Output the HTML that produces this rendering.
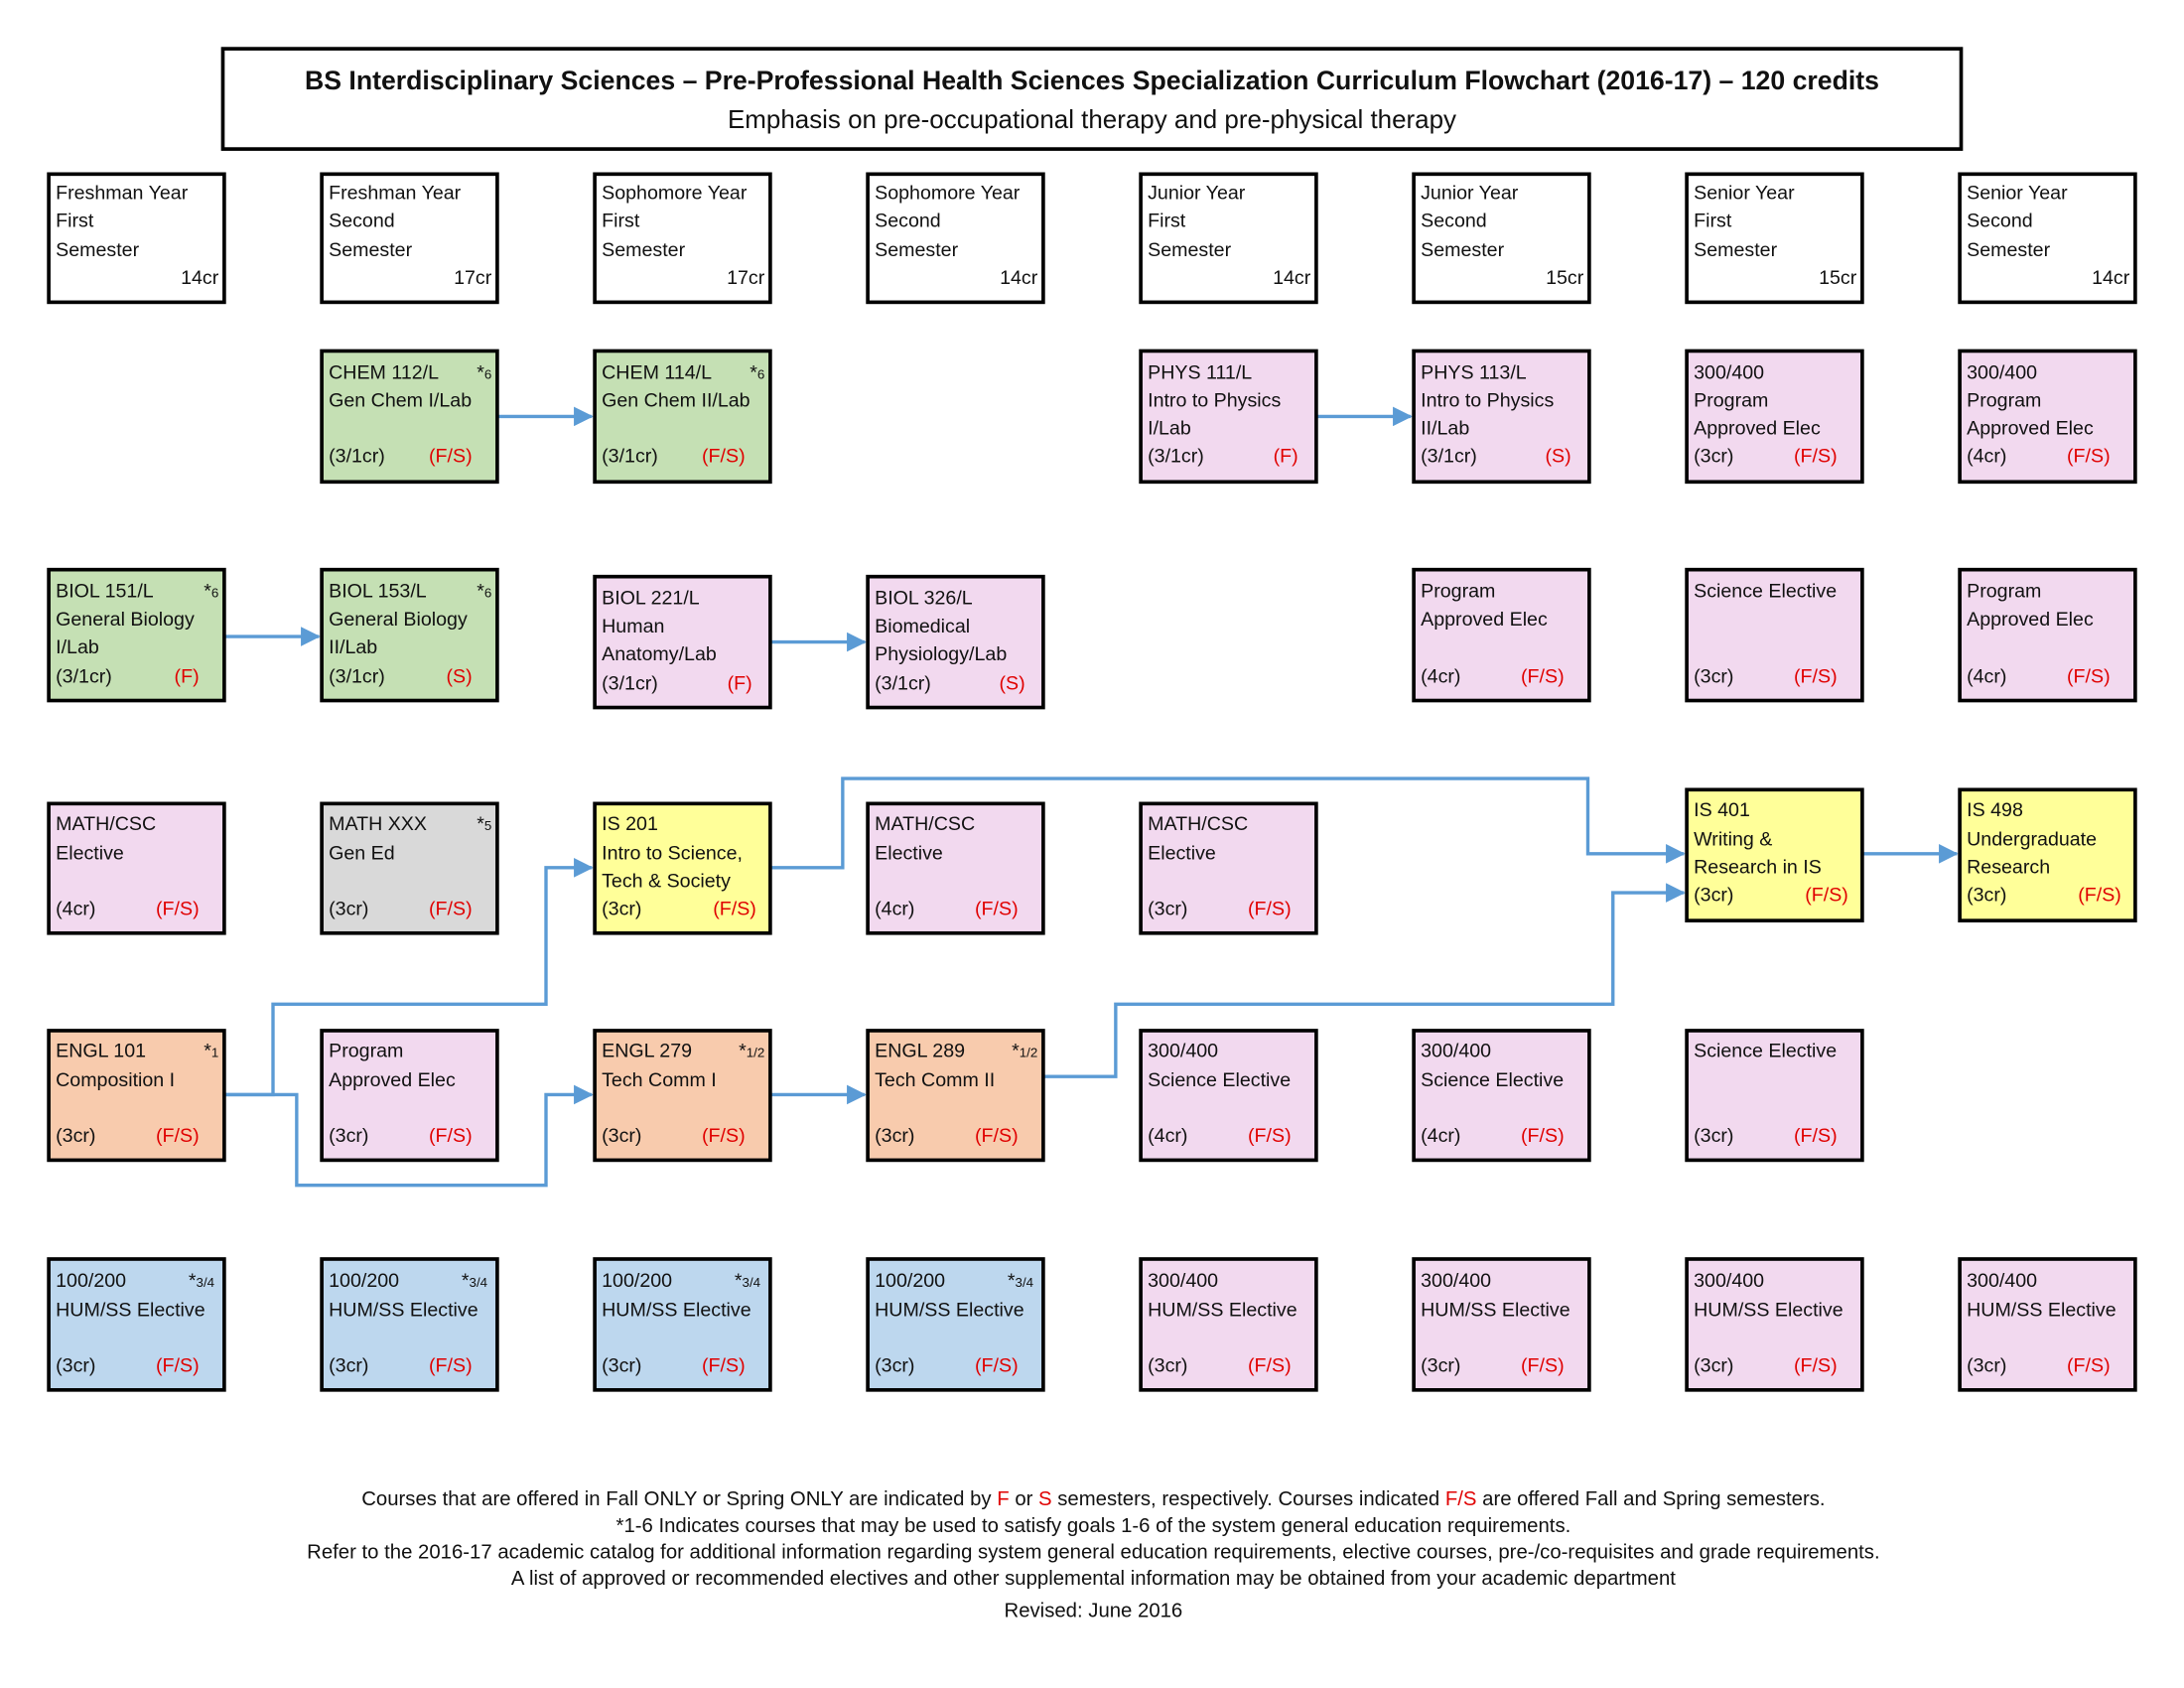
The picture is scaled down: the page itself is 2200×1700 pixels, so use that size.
<!DOCTYPE html>
<html><head><meta charset="utf-8"><style>
html,body{margin:0;padding:0;background:#fff;}
svg{display:block;}
text{font-family:"Liberation Sans Narrow","Liberation Sans",Arial,sans-serif;font-size:14px;fill:#111;}
.r{fill:#e00000;}
.ft{font-family:"Liberation Sans",Arial,sans-serif;font-size:14.5px;}
.sm{font-size:9.5px;}
rect.b{stroke:#000;stroke-width:2.6;}
.c{fill:none;stroke:#5b9bd5;stroke-width:2.4;}
</style></head><body>
<svg width="2200" height="1700" viewBox="0 0 1568 1212" preserveAspectRatio="none" xmlns="http://www.w3.org/2000/svg">
<defs>
<marker id="m" markerWidth="14" markerHeight="14" refX="13" refY="7" orient="auto" markerUnits="userSpaceOnUse" viewBox="0 0 14 14"><path d="M0,0 L14,7 L0,14 z" fill="#5b9bd5"/></marker></defs>

<!-- Title -->
<rect class="b" x="160" y="35" width="1248" height="72" fill="#fff"/>
<text x="784" y="64" text-anchor="middle" style="font-family:'Liberation Sans',sans-serif;font-weight:bold;font-size:19px">BS Interdisciplinary Sciences – Pre-Professional Health Sciences Specialization Curriculum Flowchart (2016-17) – 120 credits</text>
<text x="784" y="92" text-anchor="middle" style="font-family:'Liberation Sans',sans-serif;font-size:18.5px">Emphasis on pre-occupational therapy and pre-physical therapy</text>

<!-- Header boxes -->
<g fill="#fff">
<rect class="b" x="35" y="125" width="126" height="92"/><rect class="b" x="231" y="125" width="126" height="92"/><rect class="b" x="427" y="125" width="126" height="92"/><rect class="b" x="623" y="125" width="126" height="92"/>
<rect class="b" x="819" y="125" width="126" height="92"/><rect class="b" x="1015" y="125" width="126" height="92"/><rect class="b" x="1211" y="125" width="126" height="92"/><rect class="b" x="1407" y="125" width="126" height="92"/>
</g>
<text x="40" y="143">Freshman Year</text><text x="40" y="163">First</text><text x="40" y="184">Semester</text><text x="157" y="204" text-anchor="end">14cr</text>
<text x="236" y="143">Freshman Year</text><text x="236" y="163">Second</text><text x="236" y="184">Semester</text><text x="353" y="204" text-anchor="end">17cr</text>
<text x="432" y="143">Sophomore Year</text><text x="432" y="163">First</text><text x="432" y="184">Semester</text><text x="549" y="204" text-anchor="end">17cr</text>
<text x="628" y="143">Sophomore Year</text><text x="628" y="163">Second</text><text x="628" y="184">Semester</text><text x="745" y="204" text-anchor="end">14cr</text>
<text x="824" y="143">Junior Year</text><text x="824" y="163">First</text><text x="824" y="184">Semester</text><text x="941" y="204" text-anchor="end">14cr</text>
<text x="1020" y="143">Junior Year</text><text x="1020" y="163">Second</text><text x="1020" y="184">Semester</text><text x="1137" y="204" text-anchor="end">15cr</text>
<text x="1216" y="143">Senior Year</text><text x="1216" y="163">First</text><text x="1216" y="184">Semester</text><text x="1333" y="204" text-anchor="end">15cr</text>
<text x="1412" y="143">Senior Year</text><text x="1412" y="163">Second</text><text x="1412" y="184">Semester</text><text x="1529" y="204" text-anchor="end">14cr</text>

<!-- Connectors -->
<polyline class="c" points="357,299 425,299" marker-end="url(#m)"/>
<polyline class="c" points="945,299 1013,299" marker-end="url(#m)"/>
<polyline class="c" points="161,457 229,457" marker-end="url(#m)"/>
<polyline class="c" points="553,461 621,461" marker-end="url(#m)"/>
<polyline class="c" points="553,623 605,623 605,559 1140,559 1140,613 1209,613" marker-end="url(#m)"/>
<polyline class="c" points="161,786 196,786 196,721 392,721 392,623 425,623" marker-end="url(#m)"/>
<polyline class="c" points="161,786 213,786 213,851 392,851 392,786 425,786" marker-end="url(#m)"/>
<polyline class="c" points="553,786 621,786" marker-end="url(#m)"/>
<polyline class="c" points="749,773 801,773 801,721 1158,721 1158,641 1209,641" marker-end="url(#m)"/>
<polyline class="c" points="1337,613 1405,613" marker-end="url(#m)"/>

<!-- Row 1 -->
<rect class="b" x="231" y="252" width="126" height="94" fill="#c5e0b4"/>
<text x="236" y="272">CHEM 112/L</text><text x="353" y="272" text-anchor="end">*<tspan class="sm">6</tspan></text><text x="236" y="292">Gen Chem I/Lab</text><text x="236" y="332">(3/1cr)</text><text class="r" x="339" y="332" text-anchor="end">(F/S)</text>
<rect class="b" x="427" y="252" width="126" height="94" fill="#c5e0b4"/>
<text x="432" y="272">CHEM 114/L</text><text x="549" y="272" text-anchor="end">*<tspan class="sm">6</tspan></text><text x="432" y="292">Gen Chem II/Lab</text><text x="432" y="332">(3/1cr)</text><text class="r" x="535" y="332" text-anchor="end">(F/S)</text>
<rect class="b" x="819" y="252" width="126" height="94" fill="#f2d9ef"/>
<text x="824" y="272">PHYS 111/L</text><text x="824" y="292">Intro to Physics</text><text x="824" y="312">I/Lab</text><text x="824" y="332">(3/1cr)</text><text class="r" x="932" y="332" text-anchor="end">(F)</text>
<rect class="b" x="1015" y="252" width="126" height="94" fill="#f2d9ef"/>
<text x="1020" y="272">PHYS 113/L</text><text x="1020" y="292">Intro to Physics</text><text x="1020" y="312">II/Lab</text><text x="1020" y="332">(3/1cr)</text><text class="r" x="1128" y="332" text-anchor="end">(S)</text>
<rect class="b" x="1211" y="252" width="126" height="94" fill="#f2d9ef"/>
<text x="1216" y="272">300/400</text><text x="1216" y="292">Program</text><text x="1216" y="312">Approved Elec</text><text x="1216" y="332">(3cr)</text><text class="r" x="1319" y="332" text-anchor="end">(F/S)</text>
<rect class="b" x="1407" y="252" width="126" height="94" fill="#f2d9ef"/>
<text x="1412" y="272">300/400</text><text x="1412" y="292">Program</text><text x="1412" y="312">Approved Elec</text><text x="1412" y="332">(4cr)</text><text class="r" x="1515" y="332" text-anchor="end">(F/S)</text>

<!-- Row 2 -->
<rect class="b" x="35" y="409" width="126" height="94" fill="#c5e0b4"/>
<text x="40" y="429">BIOL 151/L</text><text x="157" y="429" text-anchor="end">*<tspan class="sm">6</tspan></text><text x="40" y="449">General Biology</text><text x="40" y="469">I/Lab</text><text x="40" y="490">(3/1cr)</text><text class="r" x="143" y="490" text-anchor="end">(F)</text>
<rect class="b" x="231" y="409" width="126" height="94" fill="#c5e0b4"/>
<text x="236" y="429">BIOL 153/L</text><text x="353" y="429" text-anchor="end">*<tspan class="sm">6</tspan></text><text x="236" y="449">General Biology</text><text x="236" y="469">II/Lab</text><text x="236" y="490">(3/1cr)</text><text class="r" x="339" y="490" text-anchor="end">(S)</text>
<rect class="b" x="427" y="414" width="126" height="94" fill="#f2d9ef"/>
<text x="432" y="434">BIOL 221/L</text><text x="432" y="454">Human</text><text x="432" y="474">Anatomy/Lab</text><text x="432" y="495">(3/1cr)</text><text class="r" x="540" y="495" text-anchor="end">(F)</text>
<rect class="b" x="623" y="414" width="126" height="94" fill="#f2d9ef"/>
<text x="628" y="434">BIOL 326/L</text><text x="628" y="454">Biomedical</text><text x="628" y="474">Physiology/Lab</text><text x="628" y="495">(3/1cr)</text><text class="r" x="736" y="495" text-anchor="end">(S)</text>
<rect class="b" x="1015" y="409" width="126" height="94" fill="#f2d9ef"/>
<text x="1020" y="429">Program</text><text x="1020" y="449">Approved Elec</text><text x="1020" y="490">(4cr)</text><text class="r" x="1123" y="490" text-anchor="end">(F/S)</text>
<rect class="b" x="1211" y="409" width="126" height="94" fill="#f2d9ef"/>
<text x="1216" y="429">Science Elective</text><text x="1216" y="490">(3cr)</text><text class="r" x="1319" y="490" text-anchor="end">(F/S)</text>
<rect class="b" x="1407" y="409" width="126" height="94" fill="#f2d9ef"/>
<text x="1412" y="429">Program</text><text x="1412" y="449">Approved Elec</text><text x="1412" y="490">(4cr)</text><text class="r" x="1515" y="490" text-anchor="end">(F/S)</text>

<!-- Row 3 -->
<rect class="b" x="35" y="577" width="126" height="93" fill="#f2d9ef"/>
<text x="40" y="596">MATH/CSC</text><text x="40" y="617">Elective</text><text x="40" y="657">(4cr)</text><text class="r" x="143" y="657" text-anchor="end">(F/S)</text>
<rect class="b" x="231" y="577" width="126" height="93" fill="#d9d9d9"/>
<text x="236" y="596">MATH XXX</text><text x="353" y="596" text-anchor="end">*<tspan class="sm">5</tspan></text><text x="236" y="617">Gen Ed</text><text x="236" y="657">(3cr)</text><text class="r" x="339" y="657" text-anchor="end">(F/S)</text>
<rect class="b" x="427" y="577" width="126" height="93" fill="#ffff99"/>
<text x="432" y="596">IS 201</text><text x="432" y="617">Intro to Science,</text><text x="432" y="637">Tech &amp; Society</text><text x="432" y="657">(3cr)</text><text class="r" x="543" y="657" text-anchor="end">(F/S)</text>
<rect class="b" x="623" y="577" width="126" height="93" fill="#f2d9ef"/>
<text x="628" y="596">MATH/CSC</text><text x="628" y="617">Elective</text><text x="628" y="657">(4cr)</text><text class="r" x="731" y="657" text-anchor="end">(F/S)</text>
<rect class="b" x="819" y="577" width="126" height="93" fill="#f2d9ef"/>
<text x="824" y="596">MATH/CSC</text><text x="824" y="617">Elective</text><text x="824" y="657">(3cr)</text><text class="r" x="927" y="657" text-anchor="end">(F/S)</text>
<rect class="b" x="1211" y="567" width="126" height="94" fill="#ffff99"/>
<text x="1216" y="586">IS 401</text><text x="1216" y="607">Writing &amp;</text><text x="1216" y="627">Research in IS</text><text x="1216" y="647">(3cr)</text><text class="r" x="1327" y="647" text-anchor="end">(F/S)</text>
<rect class="b" x="1407" y="567" width="126" height="94" fill="#ffff99"/>
<text x="1412" y="586">IS 498</text><text x="1412" y="607">Undergraduate</text><text x="1412" y="627">Research</text><text x="1412" y="647">(3cr)</text><text class="r" x="1523" y="647" text-anchor="end">(F/S)</text>

<!-- Row 4 -->
<rect class="b" x="35" y="740" width="126" height="93" fill="#f8cbad"/>
<text x="40" y="759">ENGL 101</text><text x="157" y="759" text-anchor="end">*<tspan class="sm">1</tspan></text><text x="40" y="780">Composition I</text><text x="40" y="820">(3cr)</text><text class="r" x="143" y="820" text-anchor="end">(F/S)</text>
<rect class="b" x="231" y="740" width="126" height="93" fill="#f2d9ef"/>
<text x="236" y="759">Program</text><text x="236" y="780">Approved Elec</text><text x="236" y="820">(3cr)</text><text class="r" x="339" y="820" text-anchor="end">(F/S)</text>
<rect class="b" x="427" y="740" width="126" height="93" fill="#f8cbad"/>
<text x="432" y="759">ENGL 279</text><text x="549" y="759" text-anchor="end">*<tspan class="sm">1/2</tspan></text><text x="432" y="780">Tech Comm I</text><text x="432" y="820">(3cr)</text><text class="r" x="535" y="820" text-anchor="end">(F/S)</text>
<rect class="b" x="623" y="740" width="126" height="93" fill="#f8cbad"/>
<text x="628" y="759">ENGL 289</text><text x="745" y="759" text-anchor="end">*<tspan class="sm">1/2</tspan></text><text x="628" y="780">Tech Comm II</text><text x="628" y="820">(3cr)</text><text class="r" x="731" y="820" text-anchor="end">(F/S)</text>
<rect class="b" x="819" y="740" width="126" height="93" fill="#f2d9ef"/>
<text x="824" y="759">300/400</text><text x="824" y="780">Science Elective</text><text x="824" y="820">(4cr)</text><text class="r" x="927" y="820" text-anchor="end">(F/S)</text>
<rect class="b" x="1015" y="740" width="126" height="93" fill="#f2d9ef"/>
<text x="1020" y="759">300/400</text><text x="1020" y="780">Science Elective</text><text x="1020" y="820">(4cr)</text><text class="r" x="1123" y="820" text-anchor="end">(F/S)</text>
<rect class="b" x="1211" y="740" width="126" height="93" fill="#f2d9ef"/>
<text x="1216" y="759">Science Elective</text><text x="1216" y="820">(3cr)</text><text class="r" x="1319" y="820" text-anchor="end">(F/S)</text>

<!-- Row 5 -->
<g>
<rect class="b" x="35" y="904" width="126" height="94" fill="#bdd7ee"/>
<text x="40" y="924">100/200</text><text x="154" y="924" text-anchor="end">*<tspan class="sm">3/4</tspan></text><text x="40" y="945">HUM/SS Elective</text><text x="40" y="985">(3cr)</text><text class="r" x="143" y="985" text-anchor="end">(F/S)</text>
<rect class="b" x="231" y="904" width="126" height="94" fill="#bdd7ee"/>
<text x="236" y="924">100/200</text><text x="350" y="924" text-anchor="end">*<tspan class="sm">3/4</tspan></text><text x="236" y="945">HUM/SS Elective</text><text x="236" y="985">(3cr)</text><text class="r" x="339" y="985" text-anchor="end">(F/S)</text>
<rect class="b" x="427" y="904" width="126" height="94" fill="#bdd7ee"/>
<text x="432" y="924">100/200</text><text x="546" y="924" text-anchor="end">*<tspan class="sm">3/4</tspan></text><text x="432" y="945">HUM/SS Elective</text><text x="432" y="985">(3cr)</text><text class="r" x="535" y="985" text-anchor="end">(F/S)</text>
<rect class="b" x="623" y="904" width="126" height="94" fill="#bdd7ee"/>
<text x="628" y="924">100/200</text><text x="742" y="924" text-anchor="end">*<tspan class="sm">3/4</tspan></text><text x="628" y="945">HUM/SS Elective</text><text x="628" y="985">(3cr)</text><text class="r" x="731" y="985" text-anchor="end">(F/S)</text>
<rect class="b" x="819" y="904" width="126" height="94" fill="#f2d9ef"/>
<text x="824" y="924">300/400</text><text x="824" y="945">HUM/SS Elective</text><text x="824" y="985">(3cr)</text><text class="r" x="927" y="985" text-anchor="end">(F/S)</text>
<rect class="b" x="1015" y="904" width="126" height="94" fill="#f2d9ef"/>
<text x="1020" y="924">300/400</text><text x="1020" y="945">HUM/SS Elective</text><text x="1020" y="985">(3cr)</text><text class="r" x="1123" y="985" text-anchor="end">(F/S)</text>
<rect class="b" x="1211" y="904" width="126" height="94" fill="#f2d9ef"/>
<text x="1216" y="924">300/400</text><text x="1216" y="945">HUM/SS Elective</text><text x="1216" y="985">(3cr)</text><text class="r" x="1319" y="985" text-anchor="end">(F/S)</text>
<rect class="b" x="1407" y="904" width="126" height="94" fill="#f2d9ef"/>
<text x="1412" y="924">300/400</text><text x="1412" y="945">HUM/SS Elective</text><text x="1412" y="985">(3cr)</text><text class="r" x="1515" y="985" text-anchor="end">(F/S)</text>
</g>

<!-- Footer -->
<text class="ft" x="785" y="1081" text-anchor="middle">Courses that are offered in Fall ONLY or Spring ONLY are indicated by <tspan class="r">F</tspan> or <tspan class="r">S</tspan> semesters, respectively. Courses indicated <tspan class="r">F/S</tspan> are offered Fall and Spring semesters.</text>
<text class="ft" x="785" y="1100" text-anchor="middle">*1-6 Indicates courses that may be used to satisfy goals 1-6 of the system general education requirements.</text>
<text class="ft" x="785" y="1119" text-anchor="middle">Refer to the 2016-17 academic catalog for additional information regarding system general education requirements, elective courses, pre-/co-requisites and grade requirements.</text>
<text class="ft" x="785" y="1138" text-anchor="middle">A list of approved or recommended electives and other supplemental information may be obtained from your academic department</text>
<text class="ft" x="785" y="1161" text-anchor="middle">Revised: June 2016</text>
</svg>
</body></html>
